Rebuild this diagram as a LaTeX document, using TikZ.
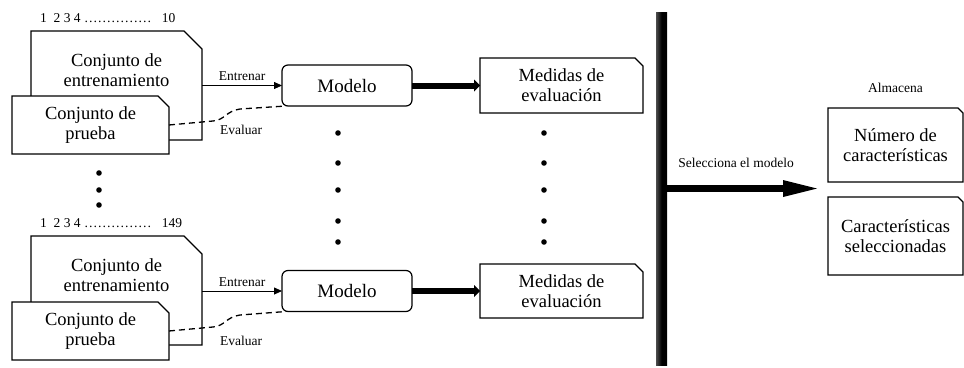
\documentclass[tikz,border=0pt]{standalone}
\usepackage{fontspec}
\setmainfont{Liberation Serif}
\newfontfamily\timesfont{Liberation Serif}
\usepackage{tikz}
\usetikzlibrary{arrows.meta, positioning, backgrounds, calc}
\tikzstyle{docnode} = [rectangle, outer sep=0pt, inner sep=0pt, align=center, font=\timesfont\fontsize{18.5}{20}\selectfont]
\tikzstyle{docline} = [draw, fill=white, line width=1.2pt, line join=miter]
\tikzstyle{modelbox} = [draw, rectangle, rounded corners=6pt, line width=1.2pt, outer sep=0pt, minimum width=130pt, minimum height=41pt, font=\timesfont\fontsize{19}{20}\selectfont]
\tikzstyle{lbl} = [font=\timesfont\fontsize{13.5}{15}\selectfont, inner sep=2pt]
\tikzstyle{wire} = [-{Triangle[length=8pt,width=7pt]}, line width=0.8pt]
\tikzstyle{evalwire} = [dash pattern=on 6pt off 4pt, line width=1.3pt]
\tikzstyle{bigwire} = [-{Triangle[length=6pt,width=12pt,line width=0pt]}, line width=6pt]
\tikzstyle{selwire} = [-{Triangle[length=34pt,width=17pt,line width=0pt]}, line width=7pt]
\tikzstyle{selbar} = [rectangle, left color=black!70, right color=black, middle color=black, minimum width=11pt, minimum height=353pt, inner sep=0pt]
% outline of a sheet with a cut corner: node, cut, extra depth below the node
\newcommand{\docoutline}[3]{%
  \draw[docline] ([yshift=-#3]#1.south west) -- (#1.north west) -- ([xshift=-#2]#1.north east)
    -- ([yshift=-#2]#1.north east) -- ([yshift=-#3]#1.south east) -- cycle;}

\begin{document}
\begin{tikzpicture}[x=1pt, y=-1pt]
    \useasboundingbox (0,0) rectangle (964,367);
    % first and last fold
    \node[docnode, minimum width=171pt, minimum height=79pt] (train1) at (116.5,70.5) {Conjunto de\\entrenamiento};
    \node[docnode, minimum width=157pt, minimum height=58pt] (test1) at (90.5,125) {Conjunto de\\prueba};
    \node[docnode, minimum width=171pt, minimum height=79pt] (train2) at (116.5,275.5) {Conjunto de\\entrenamiento};
    \node[docnode, minimum width=157pt, minimum height=58pt] (test2) at (90.5,331) {Conjunto de\\prueba};
    \node[lbl, inner sep=0pt, above right=8pt and 9pt of train1.north west] (idx1) {1~~2 3 4 …………… \hspace{7pt}10};
    \node[lbl, inner sep=0pt, above right=8pt and 9pt of train2.north west] (idx2) {1~~2 3 4 …………… \hspace{7pt}149};
    \node[modelbox] (model1) at (347,85.5) {Modelo};
    \node[modelbox] (model2) at (347,291) {Modelo};
    \node[docnode, minimum width=163pt, minimum height=55pt] (meas1) at (561.5,85.5) {Medidas de\\evaluación};
    \node[docnode, minimum width=163pt, minimum height=54pt] (meas2) at (561.5,291) {Medidas de\\evaluación};
    \node[lbl] (eval1) at (241,130) {Evaluar};
    \node[lbl] (eval2) at (241,341) {Evaluar};
    % selection and storage
    \node[selbar] (sel) at (661.5,188.5) {};
    \node[docnode, minimum width=135pt, minimum height=74pt] (store1) at (895.5,145) {Número de\\características};
    \node[docnode, minimum width=135pt, minimum height=78pt] (store2) at (895.5,236) {Características\\seleccionadas};
    \node[lbl, above=13pt of store1] (almac) {Almacena};
    \path (sel.east -| store1.west) ++(-11,0) coordinate (selend);

    \begin{pgfonlayer}{background}
      \docoutline{train1}{18pt}{30pt}
      \docoutline{test1}{11pt}{0pt}
      \docoutline{train2}{18pt}{30pt}
      \docoutline{test2}{11pt}{0pt}
      \docoutline{meas1}{8pt}{0pt}
      \docoutline{meas2}{8pt}{0pt}
      \docoutline{store1}{5pt}{0pt}
      \docoutline{store2}{5pt}{0pt}
    \end{pgfonlayer}

    \foreach \r in {1,2} {
      \draw[wire] (train\r.east |- model\r.west) -- node[lbl, above=2pt] (entr\r) {Entrenar} (model\r.west);
      \draw[evalwire] (test\r.east) -- ([shift={(44,-4)}]test\r.east)
        .. controls ([shift={(56,-5)}]test\r.east) and ([shift={(57,-14)}]test\r.east) .. ([shift={(71,-16)}]test\r.east)
        -- ([xshift=4pt]model\r.south west);
      \draw[bigwire] (model\r) -- (meas\r);
    }
    \draw[selwire] (sel.east) -- node[lbl, above=15pt, pos=0.46] (selec) {Selecciona el modelo} (selend);

    % dots for the folds in between
    \foreach \y in {133,163,190,221,242} {
      \fill (338,\y) circle (2.8pt);
      \fill (544,\y) circle (2.8pt);
    }
    \foreach \y in {173,190,205}
      \fill (99,\y) circle (2.8pt);
\end{tikzpicture}
\end{document}
